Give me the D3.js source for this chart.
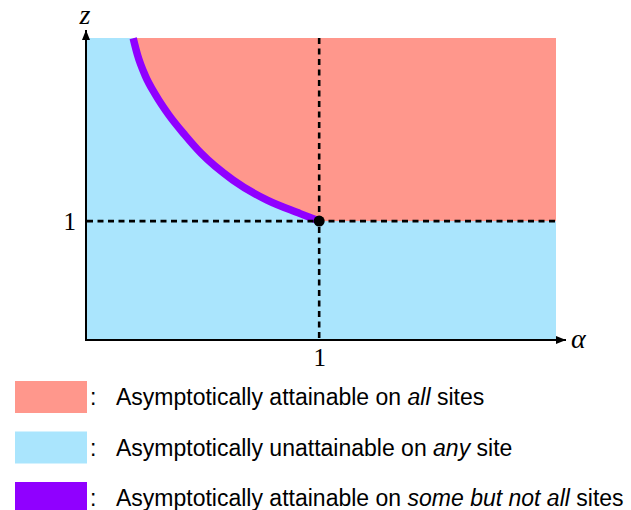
<!DOCTYPE html>
<html><head><meta charset="utf-8">
<script src="https://cdn.jsdelivr.net/npm/d3@7"></script>
<style>body{margin:0;background:#fff}svg{display:block}</style>
</head><body>
<svg id="c" width="631" height="510"></svg>
<script>
// ---- data ----
const alphaMax = 2.02;
const zMax = 2.54;
const xTicks = [1];
const yTicks = [1];
const curveAlpha = [0.199, 0.218, 0.250, 0.296, 0.353, 0.422, 0.491, 0.629, 0.776, 0.918, 1.0];
const curveZ     = [2.538, 2.395, 2.227, 2.059, 1.891, 1.723, 1.571, 1.345, 1.176, 1.063, 1.0];
const criticalPoint = [1, 1];
const legendLabels = [
  ["Asymptotically attainable on ", "all", " sites"],
  ["Asymptotically unattainable on ", "any", " site"],
  ["Asymptotically attainable on ", "some but not all", " sites"]
];
const legendColors = ["#ff978c", "#aae5fd", "#9000ff"];

// ---- drawing ----
const svg = d3.select("#c");
const x = d3.scaleLinear().domain([0, alphaMax]).range([87, 556]);
const y = d3.scaleLinear().domain([0, zMax]).range([340, 38]);
const pts = curveAlpha.map((a, i) => [a, curveZ[i]]);

// blue background
svg.append("rect").attr("x", x(0)).attr("y", y(zMax))
  .attr("width", x(alphaMax) - x(0)).attr("height", y(0) - y(zMax))
  .attr("fill", legendColors[1]);

// pink area above curve
const area = d3.area().x(d => x(d[0])).y0(d => y(d[1])).y1(() => y(zMax)).curve(d3.curveMonotoneX);
svg.append("path").attr("d", area(pts)).attr("fill", legendColors[0]);
svg.append("rect").attr("x", x(criticalPoint[0])).attr("y", y(zMax))
  .attr("width", x(alphaMax) - x(criticalPoint[0])).attr("height", y(criticalPoint[1]) - y(zMax))
  .attr("fill", legendColors[0]);

// purple curve
const line = d3.line().x(d => x(d[0])).y(d => y(d[1])).curve(d3.curveMonotoneX);
svg.append("path").attr("d", line(pts)).attr("fill", "none")
  .attr("stroke", legendColors[2]).attr("stroke-width", 7.5);

// dashed lines
svg.append("line").attr("x1", x(criticalPoint[0])).attr("x2", x(criticalPoint[0]))
  .attr("y1", y(zMax)).attr("y2", y(0))
  .attr("stroke", "#000").attr("stroke-width", 2.6).attr("stroke-dasharray", "6,4.5");
svg.append("line").attr("x1", x(0)).attr("x2", x(alphaMax))
  .attr("y1", y(criticalPoint[1])).attr("y2", y(criticalPoint[1]))
  .attr("stroke", "#000").attr("stroke-width", 2.6).attr("stroke-dasharray", "6,4.5");

// dot
svg.append("circle").attr("cx", x(criticalPoint[0])).attr("cy", y(criticalPoint[1]))
  .attr("r", 5.5).attr("fill", "#000");

// axes
const defs = svg.append("defs");
defs.append("marker").attr("id", "arr").attr("viewBox", "0 0 10 8")
  .attr("refX", 10).attr("refY", 4).attr("markerWidth", 10).attr("markerHeight", 8)
  .attr("markerUnits", "userSpaceOnUse").attr("orient", "auto")
  .append("path").attr("d", "M0,0L10,4L0,8Z").attr("fill", "#000");

svg.append("line").attr("x1", x(0) - 1).attr("x2", x(0) - 1).attr("y1", y(0) + 1).attr("y2", 30)
  .attr("stroke", "#000").attr("stroke-width", 2).attr("marker-end", "url(#arr)");
svg.append("line").attr("x1", x(0) - 2).attr("x2", 566).attr("y1", y(0)).attr("y2", y(0))
  .attr("stroke", "#000").attr("stroke-width", 2).attr("marker-end", "url(#arr)");

const xAxis = svg.append("g").attr("transform", `translate(0,${y(0)})`)
  .call(d3.axisBottom(x).tickValues(xTicks).tickSize(0).tickSizeOuter(0).tickPadding(8).tickFormat(d3.format("d")));
const yAxis = svg.append("g").attr("transform", `translate(${x(0)},0)`)
  .call(d3.axisLeft(y).tickValues(yTicks).tickSize(0).tickSizeOuter(0).tickPadding(11).tickFormat(d3.format("d")));
[xAxis, yAxis].forEach(g => {
  g.select(".domain").remove();
  g.selectAll("text").attr("font-family", "'Liberation Serif', 'Times New Roman', serif")
    .attr("font-size", 25).attr("fill", "#000");
});

svg.append("text").attr("x", 85).attr("y", 24).attr("text-anchor", "middle")
  .attr("font-family", "'Liberation Serif', serif").attr("font-style", "italic")
  .attr("font-size", 28).text("z");
svg.append("text").attr("x", 571).attr("y", 348)
  .attr("font-family", "'Liberation Serif', serif").attr("font-style", "italic")
  .attr("font-size", 28).text("α");

// legend
const lg = svg.append("g");
legendLabels.forEach((parts, i) => {
  const top = 381 + i * 50.5;
  lg.append("rect").attr("x", 15).attr("y", top).attr("width", 72).attr("height", 32)
    .attr("fill", legendColors[i]);
  lg.append("text").attr("x", 90).attr("y", top + 24)
    .attr("font-family", "'Liberation Sans', Arial, sans-serif").attr("font-size", 23).text(":");
  const t = lg.append("text").attr("x", 116).attr("y", top + 24)
    .attr("font-family", "'Liberation Sans', Arial, sans-serif").attr("font-size", 23);
  t.append("tspan").text(parts[0]);
  t.append("tspan").attr("font-style", "italic").text(parts[1]);
  t.append("tspan").text(parts[2]);
});
</script>
</body></html>
